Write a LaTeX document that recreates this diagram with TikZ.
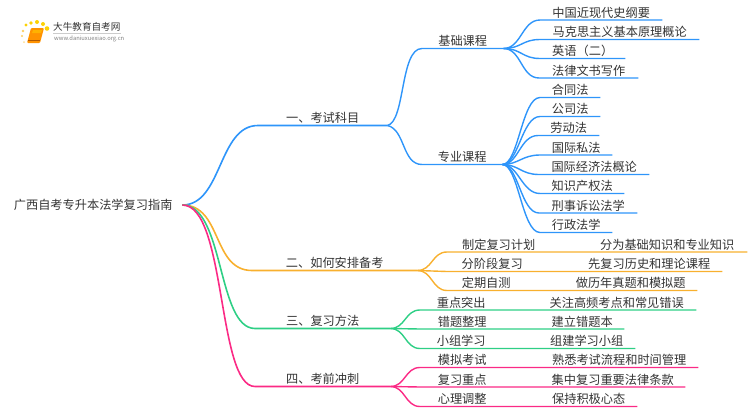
\documentclass[tikz,border=0pt]{standalone}
\usepackage{fontspec}
\setmainfont{Noto Sans CJK SC}
\definecolor{tblue}{HTML}{2E95FA}
\definecolor{torange}{HTML}{F8B02E}
\definecolor{tgreen}{HTML}{2ECF85}
\definecolor{tpink}{HTML}{FB2A85}
\definecolor{ttext}{HTML}{333333}

\begin{document}
\begin{tikzpicture}[
        x=1pt, y=-1pt,
        item/.style = {anchor=south west, inner sep=0pt, minimum height=14pt, text=ttext, font=\fontsize{12.2}{14}\selectfont},
        line/.style = {line width=1.4pt},
        topline/.style = {line width=1.6pt}
    ]
    \useasboundingbox (0,0) rectangle (750,410);

    %Logo
    \fill[orange!85!yellow, rounded corners=1pt] (31,28) -- (44,28) -- (40,43) -- (27,43) -- cycle;
    \fill[orange!60!yellow] (33,30) -- (42,30) -- (41,33) -- (32,33) -- cycle;
    \draw[orange!70!black, line width=0.4pt] (28,40) -- (40,40);
    \fill[yellow!70!orange] (26,25) circle (1.7);
    \fill[yellow!70!orange] (31,23) circle (1.9);
    \fill[yellow!70!orange] (37,22) circle (2);
    \fill[yellow!70!orange] (43,24) circle (2);
    \fill[yellow!70!orange] (47,28.5) circle (2.3);
    \fill[yellow!40!orange!60] (23,31) circle (1.4);
    \fill[yellow!40!orange!60] (22,36) circle (1.2);
    \fill[yellow!40!orange!40] (24,42) circle (1);
    \node[anchor=west, inner sep=0pt, text=ttext, font=\fontsize{9.6}{11}\selectfont] (logo_name) at (53,27) {大牛教育自考网};
    \node[anchor=west, inner sep=0pt, text=gray, font=\fontsize{5.8}{7}\selectfont] (logo_url) at (54,38.5) {www.daniuxuexiao.org.cn};
    \draw[black!20, line width=0.5pt] (53,33) -- (121,33);

    %Wurzel
    \node[anchor=west, inner sep=0pt, minimum width=178pt, text=ttext, font=\fontsize{12.2}{14}\selectfont] (root) at (4,205) {广西自考专升本法学复习指南};

    %Erste Ebene
    \node[item, minimum width=129pt] (kemu) at (258,125.5) {一、考试科目};
    \node[item, minimum width=165pt] (beikao) at (252,270.5) {二、如何安排备考};
    \node[item, minimum width=135pt] (fangfa) at (255,328.5) {三、复习方法};
    \node[item, minimum width=135pt] (chongci) at (255,386.5) {四、考前冲刺};

    %Kurse
    \node[item, minimum width=81pt] (jichu) at (422,48.5) {基础课程};
    \node[item, minimum width=80pt] (zhuanye) at (422,164.5) {专业课程};

    \node[item, minimum width=122pt] (gangyao) at (540,20) {中国近现代史纲要};
    \node[item, minimum width=159pt] (makesi) at (540,39.5) {马克思主义基本原理概论};
    \node[item, minimum width=85pt] (yingyu) at (540,58.5) {英语（二）};
    \node[item, minimum width=99pt] (wenshu) at (539,78) {法律文书写作};

    \node[item, minimum width=60pt] (hetong) at (540,97.5) {合同法};
    \node[item, minimum width=60pt] (gongsi) at (540,116.5) {公司法};
    \node[item, minimum width=61pt] (laodong) at (538,135.5) {劳动法};
    \node[item, minimum width=72pt] (sifa) at (540,155) {国际私法};
    \node[item, minimum width=110pt] (jingji) at (539,174.5) {国际经济法概论};
    \node[item, minimum width=84pt] (chanquan) at (540,193.5) {知识产权法};
    \node[item, minimum width=98pt] (xingshi) at (539,213) {刑事诉讼法学};
    \node[item, minimum width=72pt] (xingzheng) at (540,232.5) {行政法学};

    %Zweig zwei
    \node[item, minimum width=103pt] (jihua) at (447,252) {制定复习计划};
    \node[item, minimum width=90pt] (jieduan) at (447,271.5) {分阶段复习};
    \node[item, minimum width=78pt] (zice) at (447,290.5) {定期自测};
    \node[item, minimum width=160pt] (jihua_a) at (587,252) {分为基础知识和专业知识};
    \node[item, minimum width=146pt] (jieduan_a) at (576,271.5) {先复习历史和理论课程};
    \node[item, minimum width=133pt] (zice_a) at (564,290.5) {做历年真题和模拟题};

    %Zweig drei
    \node[item, minimum width=82pt] (tuchu) at (420,310) {重点突出};
    \node[item, minimum width=84pt] (cuoti) at (420,329) {错题整理};
    \node[item, minimum width=82pt] (xiaozu) at (420,348.5) {小组学习};
    \node[item, minimum width=159pt] (tuchu_a) at (537,310) {关注高频考点和常见错误};
    \node[item, minimum width=84pt] (cuoti_a) at (540,329) {建立错题本};
    \node[item, minimum width=97pt] (xiaozu_a) at (538,348.5) {组建学习小组};

    %Zweig vier
    \node[item, minimum width=84pt] (moni) at (420,367.5) {模拟考试};
    \node[item, minimum width=84pt] (zhongdian) at (420,387) {复习重点};
    \node[item, minimum width=84pt] (xinli) at (420,406.5) {心理调整};
    \node[item, minimum width=158pt] (moni_a) at (540,367.5) {熟悉考试流程和时间管理};
    \node[item, minimum width=145pt] (zhongdian_a) at (540,387) {集中复习重要法律条款};
    \node[item, minimum width=97pt] (xinli_a) at (540,406.5) {保持积极心态};

    %Linien blau
    \draw[topline, tblue] (root.east) .. controls +(40,0) and +(-40,0) .. (kemu.south west) -- (kemu.south east);
    \draw[line, tblue] (kemu.south east) .. controls +(18,-4) and +(-22,0) .. (jichu.south west) -- (jichu.south east);
    \draw[line, tblue] (kemu.south east) .. controls +(18,4) and +(-20,0) .. (zhuanye.south west) -- (zhuanye.south east);
    \foreach \leaf in {gangyao, makesi, yingyu, wenshu}
        \draw[line, tblue] (jichu.south east) .. controls +(18,0) and +(-18,0) .. (\leaf.south west) -- (\leaf.south east);
    \foreach \leaf in {hetong, gongsi, laodong, sifa, jingji, chanquan, xingshi, xingzheng}
        \draw[line, tblue] (zhuanye.south east) .. controls +(16,0) and +(-18,0) .. (\leaf.south west) -- (\leaf.south east);

    %Linien orange
    \draw[topline, torange] (root.east) .. controls +(40,0) and +(-40,0) .. (beikao.south west) -- (beikao.south east);
    \foreach \leaf/\tip in {jihua/jihua_a, jieduan/jieduan_a, zice/zice_a}
        \draw[line, torange] (beikao.south east) .. controls +(15,0) and +(-15,0) .. (\leaf.south west) -- (\leaf.south east) -- (\tip.south west) -- (\tip.south east);

    %Linien gruen
    \draw[topline, tgreen] (root.east) .. controls +(42,0) and +(-38,0) .. (fangfa.south west) -- (fangfa.south east);
    \foreach \leaf/\tip in {tuchu/tuchu_a, cuoti/cuoti_a, xiaozu/xiaozu_a}
        \draw[line, tgreen] (fangfa.south east) .. controls +(15,0) and +(-15,0) .. (\leaf.south west) -- (\leaf.south east) -- (\tip.south west) -- (\tip.south east);

    %Linien pink
    \draw[topline, tpink] (root.east) .. controls +(44,0) and +(-38,0) .. (chongci.south west) -- (chongci.south east);
    \foreach \leaf/\tip in {moni/moni_a, zhongdian/zhongdian_a, xinli/xinli_a}
        \draw[line, tpink] (chongci.south east) .. controls +(15,0) and +(-15,0) .. (\leaf.south west) -- (\leaf.south east) -- (\tip.south west) -- (\tip.south east);

\end{tikzpicture}
\end{document}
